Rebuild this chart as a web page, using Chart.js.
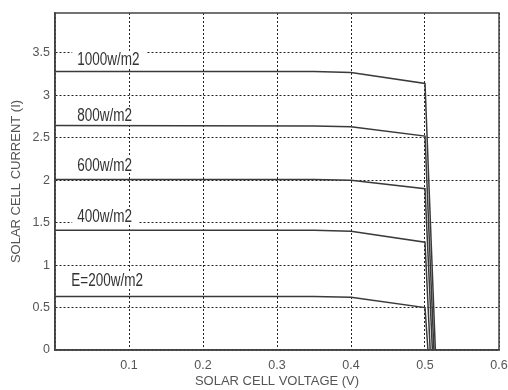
<!DOCTYPE html>
<html>
<head>
<meta charset="utf-8">
<script src="https://cdn.jsdelivr.net/npm/chart.js@4.4.0/dist/chart.umd.min.js"></script>
<style>
	html, body { margin: 0; padding: 0; background: #fff; }
</style>
</head>
<body>
<canvas id="myChart" width="508" height="390"></canvas>
<script>
var voltage = [0, 0.35, 0.4, 0.5];
var irradiance = ["E=200w/m2", "400w/m2", "600w/m2", "800w/m2", "1000w/m2"];
var current200 = [0.63, 0.63, 0.62, 0.5];
var current400 = [1.41, 1.41, 1.4, 1.27];
var current600 = [2.01, 2.01, 2.0, 1.9];
var current800 = [2.645, 2.64, 2.63, 2.52];
var current1000 = [3.28, 3.28, 3.27, 3.14];
var openCircuitVoltage = [0.504, 0.507, 0.51, 0.512, 0.514];
var currents = [current200, current400, current600, current800, current1000];

// where each curve name sits, in data units
var labelSpots = [
	{ x: 0.022, y: 0.83 },
	{ x: 0.03, y: 1.58 },
	{ x: 0.03, y: 2.18 },
	{ x: 0.03, y: 2.77 },
	{ x: 0.03, y: 3.43 },
];

const datasets = currents.map(function (cur, i) {
	var pts = voltage.map(function (v, j) {
		return { x: v, y: cur[j] };
	});
	pts.push({ x: openCircuitVoltage[i], y: 0 });
	return {
		label: irradiance[i],
		data: pts,
		showLine: true,
		borderColor: "#3a3a3a",
		borderWidth: 1.5,
		pointRadius: 0,
		tension: 0,
	};
});

const curveLabels = {
	id: "curveLabels",
	beforeDatasetsDraw: function (chart) {
		const ctx = chart.ctx;
		const xs = chart.scales.x;
		const ys = chart.scales.y;
		const squeeze = 0.75;
		ctx.save();
		ctx.font = "18px 'Liberation Sans', Arial, sans-serif";
		ctx.textBaseline = "middle";
		irradiance.forEach(function (txt, i) {
			var px = xs.getPixelForValue(labelSpots[i].x);
			var py = ys.getPixelForValue(labelSpots[i].y);
			var w = ctx.measureText(txt).width * squeeze;
			ctx.fillStyle = "#fff";
			ctx.fillRect(px - 5, py - 8, w + 12, 16);
			ctx.save();
			ctx.translate(px, py + 1);
			ctx.scale(squeeze, 1);
			ctx.fillStyle = "#333";
			ctx.fillText(txt, 0, 0);
			ctx.restore();
		});
		ctx.restore();
	},
	afterDraw: function (chart) {
		const a = chart.chartArea;
		const ctx = chart.ctx;
		ctx.save();
		ctx.strokeStyle = "#444";
		ctx.lineWidth = 1.5;
		ctx.strokeRect(a.left, a.top, a.right - a.left, a.bottom - a.top);
		ctx.restore();
	},
};

const tickFont = { family: "'Liberation Sans', Arial, sans-serif", size: 12.5 };
const titleFont = { family: "'Liberation Sans', Arial, sans-serif", size: 13 };

const config = {
	type: "scatter",
	data: { datasets: datasets },
	options: {
		responsive: false,
		animation: false,
		layout: { padding: { top: 13, right: 0, left: 0, bottom: 0 } },
		plugins: {
			legend: { display: false },
			tooltip: { enabled: false },
		},
		scales: {
			x: {
				type: "linear",
				min: 0,
				max: 0.6,
				afterFit: function (s) {
					s.height = 40;
					s.paddingRight = 9;
					s.paddingLeft = 0;
				},
				ticks: {
					stepSize: 0.1,
					padding: 8,
					color: "#555",
					font: tickFont,
					callback: function (v) {
						return v === 0 ? "" : Math.round(v * 10) / 10;
					},
				},
				grid: { color: "#222", lineWidth: 1, drawTicks: false },
				border: { display: true, color: "#444", width: 1.5, dash: [2, 2] },
				title: {
					display: true,
					text: "SOLAR CELL VOLTAGE (V)",
					color: "#555",
					font: titleFont,
					padding: { top: 0, bottom: 1 },
				},
			},
			y: {
				type: "linear",
				min: 0,
				max: 3.97,
				afterFit: function (s) {
					s.width = 55;
					s.paddingTop = 0;
					s.paddingBottom = 0;
				},
				ticks: {
					stepSize: 0.5,
					includeBounds: false,
					padding: 5,
					color: "#555",
					font: tickFont,
					callback: function (v) {
						return Math.round(v * 10) / 10;
					},
				},
				grid: { color: "#222", lineWidth: 1, drawTicks: false },
				border: { display: true, color: "#444", width: 1.5, dash: [2, 2] },
				title: {
					display: true,
					text: "SOLAR CELL CURRENT (I)",
					color: "#555",
					font: titleFont,
					padding: { top: 9, bottom: 0 },
				},
			},
		},
	},
	plugins: [curveLabels],
};

const myChart = new Chart(document.getElementById("myChart"), config);
</script>
</body>
</html>
